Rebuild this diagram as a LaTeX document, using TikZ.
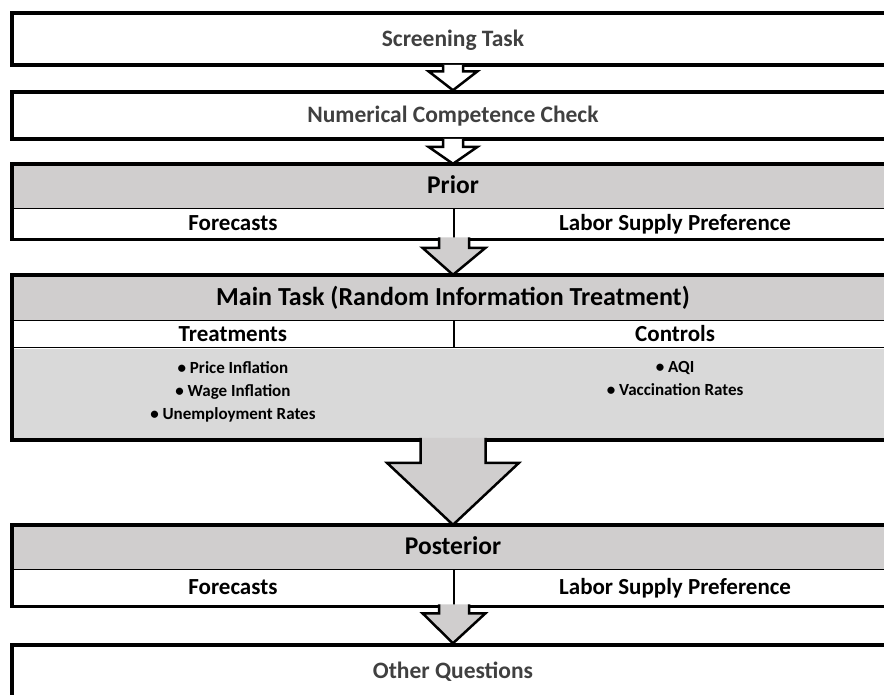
\documentclass[tikz,border=0pt]{standalone}
\usepackage{fontspec}
\setmainfont{Carlito}
\usetikzlibrary{positioning,calc}

\definecolor{hdrgray}{RGB}{208,206,206}
\definecolor{bodygray}{RGB}{217,217,217}
\definecolor{txtgray}{RGB}{64,64,64}

% block arrow: from point, to point, shaft half width, head half width, head length, fill
\newcommand{\blockarrow}[6]{%
\fill[#6] let \p1 = #1, \p2 = #2 in
  (\x1-#3pt,\y1+2pt) -- (\x1-#3pt,\y2+#5pt) -- (\x1-#4pt,\y2+#5pt) -- (\x2,\y2)
  -- (\x1+#4pt,\y2+#5pt) -- (\x1+#3pt,\y2+#5pt) -- (\x1+#3pt,\y1+2pt) -- cycle;
\draw[arrowline] let \p1 = #1, \p2 = #2 in
  (\x1-#3pt,\y1+2pt) -- (\x1-#3pt,\y2+#5pt) -- (\x1-#4pt,\y2+#5pt) -- (\x2,\y2)
  -- (\x1+#4pt,\y2+#5pt) -- (\x1+#3pt,\y2+#5pt) -- (\x1+#3pt,\y1+2pt);
}

\begin{document}
\begin{tikzpicture}[x=1pt, y=-1pt,
  whitebox/.style = {draw, line width=3.5pt, fill=white, minimum width=882pt, inner sep=0pt, text=txtgray, text height=14pt, text depth=0pt, font=\bfseries\fontsize{23.5}{25}\selectfont},
  hdrbox/.style = {fill=hdrgray, minimum width=882pt, inner sep=0pt, text height=15.5pt, text depth=0pt, font=\bfseries\fontsize{25.5}{27}\selectfont},
  cellbox/.style = {draw, line width=1.2pt, fill=white, minimum width=441pt, inner sep=0pt, text height=14pt, text depth=0pt, font=\bfseries\fontsize{23}{25}\selectfont},
  bodybox/.style = {fill=bodygray, minimum width=882pt, inner sep=0pt},
  listtext/.style = {align=center, inner sep=0pt, font=\bfseries\fontsize{17}{23}\selectfont},
  outer/.style = {draw, line width=3.5pt},
  arrowline/.style = {draw, line width=2.5pt, line join=miter}]
\useasboundingbox (0,0) rectangle (884,694);
\clip (0,0) rectangle (884,694);

\node[whitebox, minimum height=52pt] (screen) at (453,39) {Screening Task};
\node[whitebox, minimum height=47pt] (numcheck) at (453,115.5) {Numerical Competence Check};

% prior
\node[hdrbox, minimum height=44pt] (prior) at (453,186) {Prior};
\node[cellbox, minimum height=30pt, below right=0pt and 0pt of prior.south west] (priorF) {Forecasts};
\node[cellbox, minimum height=30pt, right=0pt of priorF] (priorL) {Labor Supply Preference};
\draw[outer] (prior.north west) rectangle (priorL.south east);

% main task
\node[hdrbox, minimum height=45pt, text height=16pt, font=\bfseries\fontsize{26}{28}\selectfont] (main) at (453,297.5) {Main Task (Random Information Treatment)};
\node[cellbox, minimum height=27pt, below right=0pt and 0pt of main.south west] (treat) {Treatments};
\node[cellbox, minimum height=27pt, right=0pt of treat] (ctrl) {Controls};
\node[bodybox, minimum height=91pt, below right=0pt and 0pt of treat.south west] (mainbody) {};
\node[listtext, below=13pt of treat.south] (treatlist) {• Price Inflation\\ • Wage Inflation\\ • Unemployment Rates};
\node[listtext, below=13pt of ctrl.south] (ctrllist) {• AQI\\ • Vaccination Rates};
\draw[outer] (main.north west) rectangle (mainbody.south east);

% posterior
\node[hdrbox, minimum height=44pt] (post) at (453,547) {Posterior};
\node[cellbox, minimum height=36pt, below right=0pt and 0pt of post.south west] (postF) {Forecasts};
\node[cellbox, minimum height=36pt, right=0pt of postF] (postL) {Labor Supply Preference};
\draw[outer] (post.north west) rectangle (postL.south east);

\node[whitebox, minimum height=52pt] (other) at (453,671) {Other Questions};

% arrows
\blockarrow{(screen.south)}{(numcheck.north)}{10}{24.5}{19}{white}
\blockarrow{(numcheck.south)}{(prior.north)}{10}{24.5}{17}{white}
\blockarrow{(priorL.south west)}{(main.north)}{15}{31.5}{27}{hdrgray}
\blockarrow{(mainbody.south)}{(post.north)}{32.5}{66}{62}{hdrgray}
\blockarrow{(postL.south west)}{(other.north)}{15}{31.5}{30}{hdrgray}
\end{tikzpicture}
\end{document}
